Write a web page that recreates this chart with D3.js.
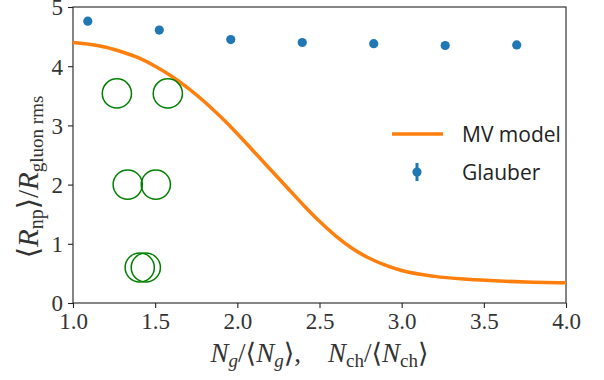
<!DOCTYPE html>
<html>
<head>
<meta charset="utf-8">
<script src="https://cdn.jsdelivr.net/npm/d3@7"></script>
<style>
  body { margin: 0; background: #fff; }
  svg { display: block; }
  .tick text { font-family: "Liberation Serif", "DejaVu Serif", serif; }
</style>
</head>
<body>
<figure id="chart" style="margin:0"></figure>
<script>
// MV model curve
const mvX = [1.0, 1.1, 1.2, 1.3, 1.4, 1.5, 1.6, 1.7, 1.8, 1.9, 2.0, 2.1, 2.2, 2.3, 2.4, 2.5,
             2.6, 2.7, 2.8, 2.9, 3.0, 3.2, 3.4, 3.6, 3.8, 4.0];
const mvY = [4.40, 4.37, 4.32, 4.24, 4.14, 4.00, 3.83, 3.63, 3.40, 3.14, 2.86, 2.56, 2.26, 1.96, 1.66, 1.38,
             1.13, 0.92, 0.76, 0.64, 0.55, 0.45, 0.40, 0.37, 0.35, 0.34];

// Glauber points
const glauberX = [1.09, 1.525, 1.96, 2.395, 2.83, 3.265, 3.70];
const glauberY = [4.76, 4.61, 4.45, 4.40, 4.38, 4.35, 4.36];

// green rings
const ringX = [1.267, 1.577, 1.333, 1.504, 1.406, 1.443];
const ringY = [3.54, 3.54, 2.0, 2.0, 0.6, 0.6];

const xTicks = [1.0, 1.5, 2.0, 2.5, 3.0, 3.5, 4.0];
const yTicks = [0, 1, 2, 3, 4, 5];
const legendLabels = ["MV model", "Glauber"];

const width = 604, height = 380;
const margin = { top: 7, right: 38, bottom: 77, left: 73 };

const svg = d3.select("#chart").append("svg")
  .attr("width", width)
  .attr("height", height);

const x = d3.scaleLinear().domain([1, 4]).range([margin.left, width - margin.right]);
const y = d3.scaleLinear().domain([0, 5]).range([height - margin.bottom, margin.top]);

// frame
svg.append("rect")
  .attr("x", x(1)).attr("y", y(5))
  .attr("width", x(4) - x(1)).attr("height", y(0) - y(5))
  .attr("fill", "none").attr("stroke", "#222").attr("stroke-width", 1.1);

const xAxis = svg.append("g")
  .attr("transform", "translate(0," + y(0) + ")")
  .call(d3.axisBottom(x).tickValues(xTicks).tickFormat(d3.format(".1f")).tickSize(5).tickPadding(5));

const yAxis = svg.append("g")
  .attr("transform", "translate(" + x(1) + ",0)")
  .call(d3.axisLeft(y).tickValues(yTicks).tickFormat(d3.format("d")).tickSize(5).tickPadding(5));

[xAxis, yAxis].forEach(g => {
  g.select(".domain").remove();
  g.selectAll(".tick line").attr("stroke", "#222").attr("stroke-width", 1.1);
  g.selectAll(".tick text").attr("font-size", "23px").attr("fill", "#333");
});
yAxis.selectAll(".tick text").attr("dy", "0.34em");

// MV curve
const line = d3.line()
  .x((d, i) => x(mvX[i]))
  .y(d => y(d))
  .curve(d3.curveMonotoneX);

svg.append("path")
  .datum(mvY)
  .attr("fill", "none")
  .attr("stroke", "#ff7f0e")
  .attr("stroke-width", 3.5)
  .attr("d", line);

// Glauber
svg.selectAll(".glauber")
  .data(glauberY)
  .enter().append("circle")
  .attr("class", "glauber")
  .attr("cx", (d, i) => x(glauberX[i]))
  .attr("cy", d => y(d))
  .attr("r", 4.6)
  .attr("fill", "#1f77b4");

// rings
svg.selectAll(".ring")
  .data(ringY)
  .enter().append("circle")
  .attr("class", "ring")
  .attr("cx", (d, i) => x(ringX[i]))
  .attr("cy", d => y(d))
  .attr("r", 14.6)
  .attr("fill", "none")
  .attr("stroke", "#008000")
  .attr("stroke-width", 1.5);

// legend
const lg = svg.append("g");
lg.append("line")
  .attr("x1", 392).attr("x2", 443).attr("y1", 134).attr("y2", 134)
  .attr("stroke", "#ff7f0e").attr("stroke-width", 3.5);
lg.append("line")
  .attr("x1", 417).attr("x2", 417).attr("y1", 163).attr("y2", 181)
  .attr("stroke", "#1f77b4").attr("stroke-width", 3);
lg.append("circle")
  .attr("cx", 417).attr("cy", 172).attr("r", 4.6).attr("fill", "#1f77b4");
lg.selectAll("text")
  .data(legendLabels)
  .enter().append("text")
  .attr("x", 462)
  .attr("y", (d, i) => 142 + i * 38)
  .attr("font-family", "'Open Sans', 'Noto Sans', sans-serif")
  .attr("font-size", "21px")
  .attr("fill", "#222")
  .text(d => d);

// axis labels
const serif = "'Liberation Serif', 'DejaVu Serif', serif";

const xl = svg.append("text")
  .attr("x", (x(1) + x(4)) / 2)
  .attr("y", 362)
  .attr("text-anchor", "middle")
  .attr("font-family", serif)
  .attr("font-size", "27px")
  .attr("fill", "#333");
xl.append("tspan").attr("font-style", "italic").text("N");
xl.append("tspan").attr("font-style", "italic").attr("font-size", "19px").attr("dy", 5).text("g");
xl.append("tspan").attr("dy", -5).text("/\u27E8");
xl.append("tspan").attr("font-style", "italic").text("N");
xl.append("tspan").attr("font-style", "italic").attr("font-size", "19px").attr("dy", 5).text("g");
xl.append("tspan").attr("dy", -5).text("\u27E9,\u2003");
xl.append("tspan").attr("font-style", "italic").text("N");
xl.append("tspan").attr("font-size", "19px").attr("dy", 5).text("ch");
xl.append("tspan").attr("dy", -5).text("/\u27E8");
xl.append("tspan").attr("font-style", "italic").text("N");
xl.append("tspan").attr("font-size", "19px").attr("dy", 5).text("ch");
xl.append("tspan").attr("dy", -5).text("\u27E9");

const yl = svg.append("text")
  .attr("transform", "translate(38," + ((y(0) + y(5)) / 2 + 22) + ") rotate(-90)")
  .attr("text-anchor", "middle")
  .attr("font-family", serif)
  .attr("font-size", "29px")
  .attr("fill", "#333");
yl.append("tspan").text("\u27E8");
yl.append("tspan").attr("font-style", "italic").text("R");
yl.append("tspan").attr("font-size", "20px").attr("dy", 5).text("np");
yl.append("tspan").attr("dy", -5).text("\u27E9/");
yl.append("tspan").attr("font-style", "italic").text("R");
yl.append("tspan").attr("font-size", "19px").attr("dy", 5).text("gluon rms");
</script>
</body>
</html>
